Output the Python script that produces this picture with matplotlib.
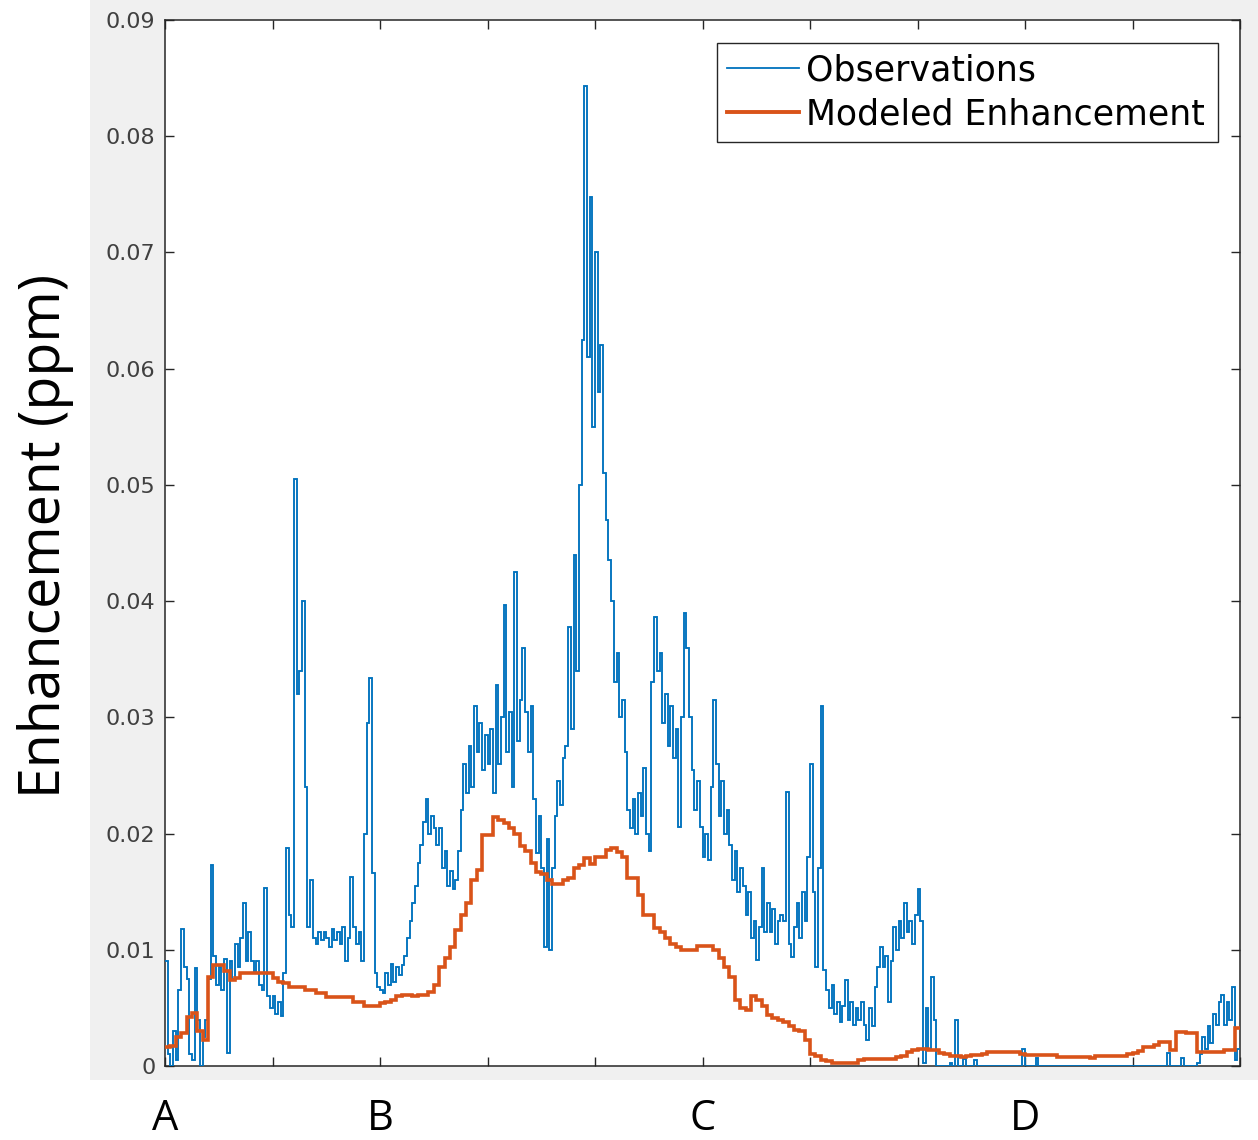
import numpy as np
import matplotlib
matplotlib.use("Agg")
import matplotlib.pyplot as plt
from matplotlib.lines import Line2D
import matplotlib.transforms as mtransforms

# ---------------- data (enhancement in units of 1e-3 ppm) ----------------
obs_milli = [
    9.0, 1.0, 0.0, 3.0, 0.5, 6.5, 11.8, 8.5, 7.5, 1.0,
    0.5, 8.4, 4.0, 0.0, 2.5, 4.0, 7.5, 17.3, 9.5, 7.0,
    8.5, 6.5, 9.2, 1.1, 9.0, 7.5, 10.5, 8.5, 11.0, 14.0,
    9.0, 11.5, 9.0, 8.0, 9.0, 7.0, 6.5, 15.3, 6.0, 5.0,
    6.0, 4.5, 5.5, 4.3, 8.0, 18.8, 13.0, 12.0, 50.5, 32.0,
    34.0, 40.0, 24.0, 12.0, 16.0, 11.0, 10.5, 11.5, 10.8, 11.5,
    11.0, 10.2, 11.8, 10.8, 11.5, 10.5, 12.0, 9.0, 11.0, 16.3,
    12.0, 10.5, 11.5, 9.0, 20.0, 29.5, 33.4, 16.6, 8.0, 6.8,
    6.5, 6.3, 8.0, 7.0, 8.8, 7.2, 8.5, 7.8, 8.7, 9.5,
    11.0, 12.5, 14.0, 15.5, 17.5, 19.0, 21.0, 23.0, 20.0, 21.5,
    20.5, 19.0, 20.5, 17.0, 18.5, 15.5, 16.8, 15.2, 16.0, 18.5,
    22.0, 26.0, 23.5, 27.5, 24.0, 31.0, 27.0, 29.5, 25.5, 28.5,
    26.0, 29.0, 23.5, 32.8, 26.0, 30.0, 39.7, 27.0, 30.5, 24.0,
    42.5, 28.0, 31.5, 36.0, 30.5, 27.0, 31.0, 23.0, 18.3, 21.5,
    17.0, 10.2, 19.5, 10.0, 17.0, 21.5, 24.5, 22.5, 26.5, 27.5,
    37.8, 29.0, 44.0, 34.0, 50.0, 62.5, 84.3, 61.0, 74.8, 55.0,
    70.0, 58.0, 62.0, 51.0, 47.0, 43.5, 40.0, 33.0, 35.5, 30.0,
    31.5, 27.0, 22.0, 20.5, 23.0, 20.0, 23.5, 21.5, 25.6, 20.0,
    18.5, 33.0, 38.6, 34.0, 35.5, 29.5, 32.0, 27.5, 31.0, 26.5,
    29.0, 20.6, 30.0, 39.0, 36.0, 30.0, 25.5, 22.0, 24.5, 20.6,
    18.0, 20.0, 17.7, 24.0, 31.5, 26.0, 21.5, 24.5, 20.0, 22.0,
    19.0, 16.0, 18.5, 15.0, 17.0, 15.5, 13.0, 15.0, 11.0, 12.5,
    9.1, 12.0, 17.0, 11.5, 14.0, 11.5, 13.5, 10.5, 12.5, 13.0,
    12.5, 23.6, 10.5, 9.4, 12.0, 14.0, 11.0, 15.0, 12.5, 18.0,
    26.0, 15.0, 8.5, 17.0, 31.0, 8.3, 6.5, 5.0, 7.0, 4.5,
    5.5, 3.8, 5.2, 7.4, 4.0, 5.5, 3.5, 5.0, 4.0, 5.5,
    3.5, 2.2, 5.0, 3.4, 6.8, 8.5, 10.2, 8.5, 9.5, 5.5,
    9.0, 12.0, 10.0, 12.5, 11.0, 14.0, 11.5, 12.5, 10.5, 13.0,
    15.2, 12.5, 0.3, 5.0, 1.5, 7.7, 4.0, 0.0, 0.0, 0.0,
    0.0, 0.0, 0.3, 0.0, 4.0, 0.0, 0.0, 0.6, 0.0, 0.0,
    0.0, 0.5, 0.0, 0.0, 0.0, 0.0, 0.0, 0.0, 0.0, 0.0,
    0.0, 0.0, 0.0, 0.0, 0.0, 0.0, 0.0, 0.0, 0.0, 1.5,
    0.0, 0.0, 0.0, 0.0, 0.7, 0.0, 0.0, 0.0, 0.0, 0.0,
    0.0, 0.0, 0.0, 0.0, 0.0, 0.0, 0.0, 0.0, 0.0, 0.0,
    0.0, 0.0, 0.0, 0.0, 0.0, 0.0, 0.0, 0.0, 0.0, 0.0,
    0.0, 0.0, 0.0, 0.0, 0.0, 0.0, 0.0, 0.0, 0.0, 0.0,
    0.0, 0.0, 0.0, 0.0, 0.0, 0.0, 0.0, 0.0, 0.0, 0.0,
    0.0, 0.0, 0.0, 1.1, 0.0, 0.0, 0.0, 0.0, 0.7, 0.0,
    0.0, 0.0, 0.0, 0.0, 0.3, 1.0, 2.5, 1.5, 3.4, 2.0,
    4.5, 3.5, 5.5, 6.1, 3.5, 5.5, 4.0, 6.8, 0.5, 1.5,
]

model_milli = [
    1.6, 1.7, 2.5, 2.8, 4.2, 4.6, 3.0, 2.2, 7.7, 8.7,
    8.7, 8.2, 7.4, 7.6, 8.0, 8.0, 8.0, 8.0, 8.0, 8.0,
    7.6, 7.2, 7.1, 6.8, 6.8, 6.8, 6.5, 6.5, 6.3, 6.3,
    5.9, 5.9, 5.9, 5.9, 5.9, 5.5, 5.5, 5.2, 5.2, 5.2,
    5.4, 5.5, 5.7, 6.0, 6.1, 6.1, 6.0, 6.1, 6.1, 6.4,
    7.0, 8.5, 9.3, 10.2, 11.7, 13.0, 14.0, 16.0, 16.9, 19.9,
    19.9, 21.4, 21.2, 20.9, 20.5, 20.0, 18.9, 18.5, 17.5, 16.7,
    16.5, 16.0, 15.7, 15.7, 16.0, 16.2, 17.0, 17.3, 17.9, 17.4,
    18.0, 18.0, 18.6, 18.8, 18.4, 18.0, 16.2, 16.2, 14.7, 13.0,
    13.0, 11.9, 11.5, 11.0, 10.5, 10.2, 10.0, 10.0, 10.0, 10.3,
    10.3, 10.3, 10.0, 9.3, 8.5, 7.7, 5.7, 5.0, 4.8, 6.0,
    5.7, 5.2, 4.4, 4.1, 4.0, 3.8, 3.4, 3.1, 3.0, 2.2,
    1.0, 0.9, 0.5, 0.4, 0.3, 0.3, 0.3, 0.3, 0.3, 0.5,
    0.6, 0.6, 0.6, 0.6, 0.6, 0.6, 0.8, 0.9, 1.2, 1.4,
    1.5, 1.5, 1.4, 1.4, 1.1, 1.0, 0.9, 0.85, 0.8, 0.9,
    0.95, 0.95, 1.0, 1.2, 1.2, 1.2, 1.2, 1.2, 1.2, 1.0,
    0.95, 0.95, 0.95, 0.95, 0.95, 0.95, 0.8, 0.8, 0.8, 0.8,
    0.8, 0.8, 0.7, 0.85, 0.85, 0.85, 0.85, 0.85, 0.85, 1.0,
    1.1, 1.3, 1.6, 1.6, 1.8, 2.1, 2.1, 1.4, 2.9, 2.9,
    2.8, 2.8, 1.2, 1.2, 1.2, 1.2, 1.2, 1.4, 1.4, 3.3,
]

x_max = 1000
ytick_values = [0, 0.01, 0.02, 0.03, 0.04, 0.05, 0.06, 0.07, 0.08, 0.09]
ytick_labels = ["0", "0.01", "0.02", "0.03", "0.04", "0.05", "0.06", "0.07", "0.08", "0.09"]
xtick_values = list(range(0, 1001, 100))
section_labels = ["A", "B", "C", "D"]
section_positions = [0, 200, 500, 800]
series_labels = ["Observations", "Modeled Enhancement"]

# ---------------- figure ----------------
W, H = 1258, 1140
fig = plt.figure(figsize=(W / 100, H / 100), dpi=100)
fig.patch.set_facecolor("white")

# gray panel (figure background of the original), drawn behind the axes
bg = fig.add_axes([90 / W, 1 - 1080 / H, 1 - 90 / W, 1080 / H], zorder=-5)
bg.set_facecolor("#f0f0f0")
bg.set_xticks([])
bg.set_yticks([])
for s in bg.spines.values():
    s.set_visible(False)

ax = fig.add_axes([165 / W, 1 - 1066 / H, (1240 - 165) / W, (1066 - 20) / H], zorder=1)
ax.set_facecolor("white")

blue = "#0072BD"
orange = "#D95319"

obs = np.array(obs_milli) / 1000.0
model = np.array(model_milli) / 1000.0
obs_edges = np.linspace(0, x_max, len(obs) + 1)
model_edges = np.linspace(0, x_max, len(model) + 1)

ax.stairs(obs, obs_edges, baseline=None, color=blue, linewidth=1.35, zorder=2.6)
ax.stairs(model, model_edges, baseline=None, color=orange, linewidth=2.6, zorder=2.7)

ax.set_xlim(0, x_max)
ax.set_ylim(0, 0.09)
ax.set_yticks(ytick_values)
ax.set_yticklabels(ytick_labels)
ax.set_xticks(xtick_values)
ax.set_xticklabels([])

spine_col = "#262626"
for s in ax.spines.values():
    s.set_color(spine_col)
    s.set_linewidth(1.1)
ax.tick_params(axis="both", which="both", direction="in", length=6.5, width=1.0,
               color=spine_col, top=True, right=True, labelsize=16,
               labelcolor="#404040")
ax.tick_params(axis="y", pad=7)

handles = [Line2D([], [], color=blue, linewidth=1.3),
           Line2D([], [], color=orange, linewidth=2.8)]
leg = ax.legend(handles, series_labels, loc="upper left",
                bbox_to_anchor=((717 - 165) / 1075, (1066 - 43) / 1046,
                                (1218 - 717) / 1075, 0),
                mode="expand", fontsize=25, frameon=True, fancybox=False,
                edgecolor=spine_col, framealpha=1, borderpad=0.3,
                labelspacing=0.28, handlelength=2.05, handletextpad=0.2,
                borderaxespad=0)
leg.set_zorder(5)
leg.get_frame().set_linewidth(1.0)

# section letters under the axis
trans = mtransforms.blended_transform_factory(ax.transData, fig.transFigure)
for lab, pos in zip(section_labels, section_positions):
    ax.text(pos, 1 - 1130 / H, lab, transform=trans, ha="center", va="baseline",
            fontsize=30, family="Open Sans", color="black", clip_on=False)

fig.text(46 / W, 1 - 536 / H, "Enhancement (ppm)", rotation=90, ha="center",
         va="center", fontsize=40, family="Open Sans", color="black")

fig.savefig("out.png", dpi=100, facecolor="white")
